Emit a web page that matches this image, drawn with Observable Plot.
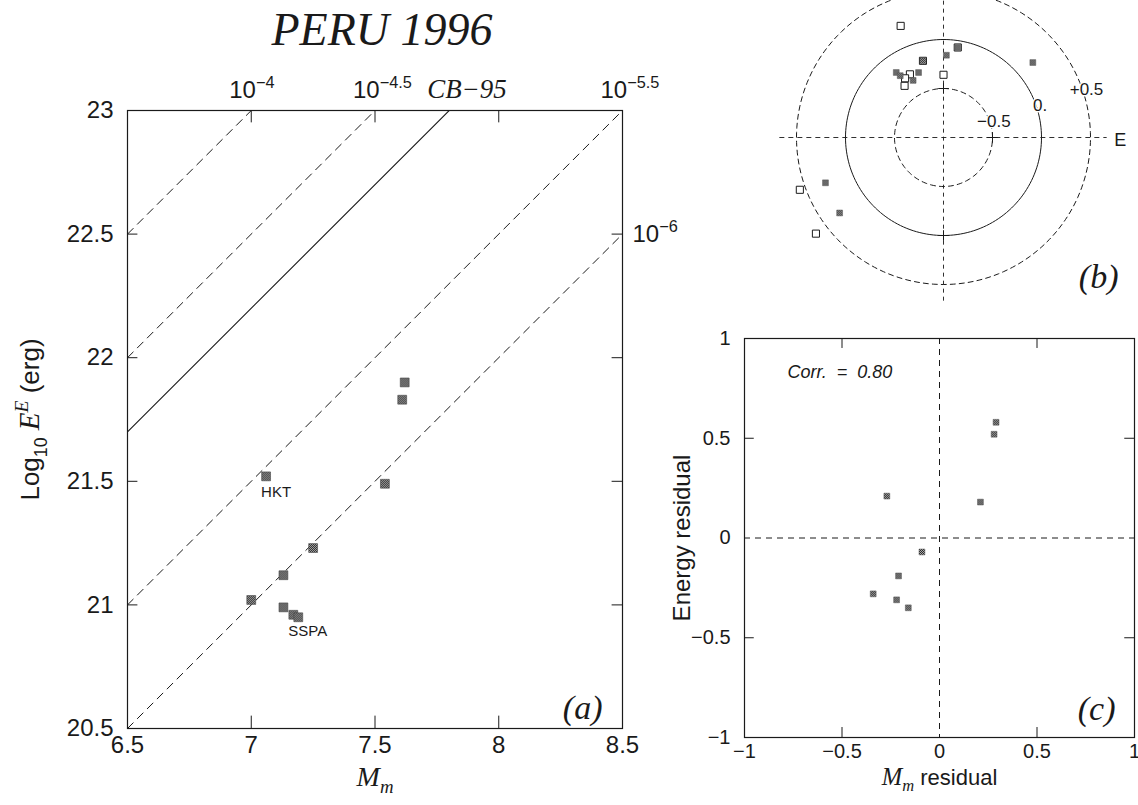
<!DOCTYPE html>
<html>
<head>
<meta charset="utf-8">
<script src="https://cdn.jsdelivr.net/npm/d3@7"></script>
<script src="https://cdn.jsdelivr.net/npm/@observablehq/plot@0.6"></script>
<style>
  html, body { margin: 0; padding: 0; background: #fff; }
  #fig { position: relative; width: 1138px; height: 805px; overflow: hidden; background: #fff; }
  #fig > svg { position: absolute; margin: 0; max-width: none; }
</style>
</head>
<body>
<svg width="0" height="0" style="position:absolute">
  <defs>
    <pattern id="hatch" patternUnits="userSpaceOnUse" width="2" height="2">
      <rect width="2" height="2" fill="#b4b4b4"></rect>
      <rect width="1" height="1" fill="#1e1e1e"></rect>
      <rect x="1" y="1" width="1" height="1" fill="#1e1e1e"></rect>
    </pattern>
  </defs>
</svg>
<div id="fig"></div>
<script>
// ---------------- DATA ----------------
// Panel (a): energy vs mantle magnitude
const magM = [7.62, 7.61, 7.06, 7.54, 7.25, 7.13, 7.00, 7.13, 7.17, 7.19];
const logE = [21.90, 21.83, 21.52, 21.49, 21.23, 21.12, 21.02, 20.99, 20.96, 20.95];
const stationNames = ["HKT", "SSPA"];
const stationIndex = [2, 8];
// reference lines of constant theta = E / M0  (log10 M0 = Mm + 20)
const ratioLog = [-4, -4.5, -4.8, -5.5, -6];
const ratioNames = ["10^{−4}", "10^{−4.5}", "*CB−95*", "10^{−5.5}", "10^{−6}"];
const ratioSolid = [false, false, true, false, false];
const MOMENT_OFFSET = 20;
const aXTicks = [6.5, 7, 7.5, 8, 8.5];
const aYTicks = [20.5, 21, 21.5, 22, 22.5, 23];

// Panel (b): azimuthal residuals (azimuth deg from N, residual)
const bOpenAz   = [339, 9, 345, 0, 332, 327, 323, 250, 233];
const bOpenRes  = [0.22, -0.07, -0.19, -0.36, -0.27, -0.28, -0.34, 0.56, 0.63];
const bHatchAz  = [9, 345, 2, 50, 324, 325, 339, 332, 249, 234];
const bHatchRes = [-0.07, -0.19, -0.16, 0.19, -0.18, -0.23, -0.29, -0.34, 0.29, 0.31];
const bRings = [-0.5, 0, 0.5];
const bRingLabels = ["−0.5", "0.", "+0.5"];

// Panel (c): residual correlation
const cMres = [0.29, 0.28, -0.27, 0.21, -0.09, -0.21, -0.34, -0.22, -0.16];
const cEres = [0.58, 0.52, 0.21, 0.18, -0.07, -0.19, -0.28, -0.31, -0.35];
const cTicks = [-1, -0.5, 0, 0.5, 1];
const cTickLabels = ["−1", "−0.5", "0", "0.5", "1"];
const corrText = "Corr.\u00a0\u00a0=\u00a0\u00a00.80";

// ---------------- HELPERS ----------------
const SANS = "'Liberation Sans', Arial, Helvetica, sans-serif";
const SERIF = "'Liberation Serif', 'Times New Roman', serif";
const fig = document.getElementById("fig");

function parseRich(s) {
  const out = []; let italic = false, shift = 0, buf = ""; const stack = [];
  const flush = () => { if (buf) { out.push({text: buf, italic, shift}); buf = ""; } };
  for (let i = 0; i < s.length; i++) {
    const c = s[i];
    if (c === "*") { flush(); italic = !italic; }
    else if ((c === "^" || c === "_") && s[i + 1] === "{") { flush(); stack.push(shift); shift = c === "^" ? 1 : -1; i++; }
    else if (c === "}" && stack.length) { flush(); shift = stack.pop(); }
    else buf += c;
  }
  flush();
  return out;
}
function richify(svg) {
  svg.querySelectorAll("text").forEach(el => {
    const s = el.textContent;
    if (!/[*]|\^\{|_\{/.test(s)) return;
    const fs = parseFloat(getComputedStyle(el).fontSize) || 16;
    const parts = parseRich(s);
    while (el.firstChild) el.removeChild(el.firstChild);
    let cur = 0;
    for (const p of parts) {
      const ts = document.createElementNS("http://www.w3.org/2000/svg", "tspan");
      ts.textContent = p.text;
      const target = p.shift > 0 ? -0.42 * fs : p.shift < 0 ? 0.3 * fs : 0;
      if (target !== cur) { ts.setAttribute("dy", (target - cur).toFixed(2)); cur = target; }
      if (p.shift) ts.setAttribute("font-size", (0.68 * fs).toFixed(1));
      if (p.italic) { ts.setAttribute("font-family", SERIF); ts.setAttribute("font-style", "italic"); ts.setAttribute("font-size", ((p.shift ? 0.75 : 1.12) * fs).toFixed(1)); }
      el.appendChild(ts);
    }
  });
}
function place(svg, left, top) {
  svg.style.left = left + "px";
  svg.style.top = top + "px";
  fig.appendChild(svg);
  richify(svg);
}
const baseStyle = {fontFamily: SANS, background: "transparent", overflow: "visible", color: "#111"};
const INK = "#1a1a1a";

// ---------------- PANEL (a) ----------------
{
  const A = {W: 700, H: 805, L: 127, R: 622, T: 110, B: 728};
  const xd = [aXTicks[0], aXTicks[aXTicks.length - 1]];
  const yd = [aYTicks[0], aYTicks[aYTicks.length - 1]];
  const innerX = aXTicks.slice(1, -1), innerY = aYTicks.slice(1, -1);
  const events = magM.map((m, i) => ({M: m, E: logE[i]}));
  const stations = stationNames.map((n, i) => ({name: n, ...events[stationIndex[i]]}));
  const ratios = ratioLog.map((lg, i) => ({lg, name: ratioNames[i], solid: ratioSolid[i],
    Mtop: yd[1] - MOMENT_OFFSET - lg, Eright: xd[1] + MOMENT_OFFSET + lg}));
  const linePts = ratios.flatMap(r => xd.map(m => ({M: m, E: m + MOMENT_OFFSET + r.lg, name: r.name, solid: r.solid})));
  const topLabels = ratios.filter(r => r.Mtop <= xd[1]);
  const rightLabels = ratios.filter(r => r.Mtop > xd[1]);
  const tvx = 0.05, tvy = 0.042;

  const svg = Plot.plot({
    width: A.W, height: A.H,
    marginLeft: A.L, marginRight: A.W - A.R, marginTop: A.T, marginBottom: A.H - A.B,
    x: {domain: xd, axis: null}, y: {domain: yd, axis: null},
    style: baseStyle,
    marks: [
      Plot.line(linePts.filter(d => !d.solid), {x: "M", y: "E", z: "name", stroke: INK, strokeWidth: 1, strokeDasharray: "8,6", clip: true}),
      Plot.line(linePts.filter(d => d.solid), {x: "M", y: "E", z: "name", stroke: INK, strokeWidth: 1.1, clip: true}),
      Plot.frame({stroke: INK, strokeWidth: 1.2}),
      Plot.ruleX(innerX, {x: d => d, y1: yd[0], y2: yd[0] + tvx, stroke: INK}),
      Plot.ruleX(innerX, {x: d => d, y1: yd[1] - tvx, y2: yd[1], stroke: INK}),
      Plot.ruleY(innerY, {y: d => d, x1: xd[0], x2: xd[0] + tvy, stroke: INK}),
      Plot.ruleY(innerY, {y: d => d, x1: xd[1] - tvy, x2: xd[1], stroke: INK}),
      Plot.dot(events, {x: "M", y: "E", symbol: "square", r: 5, fill: "url(#hatch)", stroke: "#444", strokeWidth: 0.6}),
      Plot.text(stations, {x: "M", y: "E", text: "name", textAnchor: "start", dx: -5, dy: 16, fontSize: 15, fill: INK}),
      // tick labels
      Plot.text(aXTicks, {x: d => d, text: d => String(d), frameAnchor: "bottom", lineAnchor: "top", dy: 7, fontSize: 24, fill: INK}),
      Plot.text(aYTicks, {y: d => d, text: d => String(d), frameAnchor: "left", textAnchor: "end", lineAnchor: "middle", dx: -14, fontSize: 24, fill: INK}),
      // ratio labels
      Plot.text(topLabels, {x: "Mtop", text: "name", frameAnchor: "top", textAnchor: "start", lineAnchor: "middle", dx: -22, dy: -20, fontSize: 24, fill: INK}),
      Plot.text(rightLabels, {y: "Eright", text: "name", frameAnchor: "right", textAnchor: "start", lineAnchor: "middle", dx: 10, fontSize: 24, fill: INK}),
      // axis labels & title
      Plot.text(["Log_{10} *E*^{*E*} (erg)"], {frameAnchor: "left", textAnchor: "middle", lineAnchor: "middle", rotate: -90, dx: -97, fontSize: 26, fill: INK}),
      Plot.text(["*M*_{*m*}"], {frameAnchor: "bottom", textAnchor: "middle", lineAnchor: "bottom", dy: 57, fontSize: 25, fill: INK}),
      Plot.text(["PERU 1996"], {frameAnchor: "top", textAnchor: "middle", lineAnchor: "middle", dx: 7, dy: -80, fontSize: 46, fontFamily: SERIF, fontStyle: "italic", fill: INK}),
      Plot.text(["(a)"], {frameAnchor: "bottom-right", textAnchor: "end", lineAnchor: "bottom", dx: -20, dy: -10, fontSize: 34, fontFamily: SERIF, fontStyle: "italic", fill: INK})
    ]
  });
  place(svg, 0, 0);
}

// ---------------- PANEL (b) ----------------
{
  const B = {left: 748, top: 0, W: 390, H: 310, cx: 943, cy: 137, unit: 98};
  const toXY = (az, res) => { const rho = res + 1, t = az * Math.PI / 180; return {x: rho * Math.sin(t), y: rho * Math.cos(t)}; };
  const open = bOpenAz.map((a, i) => toXY(a, bOpenRes[i]));
  const hatch = bHatchAz.map((a, i) => toXY(a, bHatchRes[i]));
  const ringPts = bRings.flatMap(v => d3.range(0, 361, 2).map(a => ({...toXY(a, v), ring: v})));
  const ringLab = bRings.map((v, i) => ({...toXY(71, v), text: bRingLabels[i]}));
  const cross = 1.67;
  const axTicks = [toXY(0, -0.5), toXY(90, -0.5), toXY(180, 0)];

  const svg = Plot.plot({
    width: B.W, height: B.H, margin: 0,
    x: {domain: [(B.left - B.cx) / B.unit, (B.left + B.W - B.cx) / B.unit], axis: null},
    y: {domain: [(B.cy - B.top - B.H) / B.unit, (B.cy - B.top) / B.unit], axis: null},
    style: baseStyle,
    marks: [
      Plot.ruleY([0], {x1: -cross, x2: cross, stroke: INK, strokeWidth: 0.9, strokeDasharray: "5,4"}),
      Plot.ruleX([0], {y1: -cross, y2: cross, stroke: INK, strokeWidth: 0.9, strokeDasharray: "4,4"}),
      Plot.line(ringPts.filter(d => d.ring !== 0), {x: "x", y: "y", z: "ring", stroke: INK, strokeWidth: 1, strokeDasharray: "5,4"}),
      Plot.line(ringPts.filter(d => d.ring === 0), {x: "x", y: "y", stroke: INK, strokeWidth: 1}),
      Plot.dot(axTicks, {x: "x", y: "y", symbol: "plus", r: 3.5, stroke: INK, strokeWidth: 1}),
      Plot.dot(open, {x: "x", y: "y", symbol: "square", r: 4, fill: "white", stroke: INK, strokeWidth: 1}),
      Plot.dot(hatch, {x: "x", y: "y", symbol: "square", r: 3.3, fill: "url(#hatch)", stroke: "#555", strokeWidth: 0.5}),
      Plot.text(ringLab, {x: "x", y: "y", text: "text", dx: 4, fontSize: 17, fill: INK, stroke: "white", strokeWidth: 3}),
      Plot.text(["E"], {x: cross, y: 0, dx: 7, dy: 3, textAnchor: "start", fontSize: 18, fill: INK}),
      Plot.text(["(b)"], {frameAnchor: "bottom-right", textAnchor: "end", lineAnchor: "bottom", dx: -20, dy: -23, fontSize: 34, fontFamily: SERIF, fontStyle: "italic", fill: INK})
    ]
  });
  place(svg, B.left, B.top);
}

// ---------------- PANEL (c) ----------------
{
  const C = {left: 640, top: 310, W: 498, H: 495, L: 744, R: 1134, T: 338, B: 737};
  const d = [cTicks[0], cTicks[cTicks.length - 1]];
  const inner = cTicks.filter(t => t !== 0 && t !== d[0] && t !== d[1]);
  const pts = cMres.map((m, i) => ({m, e: cEres[i]}));
  const labs = cTicks.map((t, i) => ({t, s: cTickLabels[i]}));
  const tl = 0.05;
  const svg = Plot.plot({
    width: C.W, height: C.H,
    marginLeft: C.L - C.left, marginRight: C.left + C.W - C.R, marginTop: C.T - C.top, marginBottom: C.top + C.H - C.B,
    x: {domain: d, axis: null}, y: {domain: d, axis: null},
    style: baseStyle,
    marks: [
      Plot.ruleX([0], {stroke: INK, strokeWidth: 1, strokeDasharray: "6,5"}),
      Plot.ruleY([0], {stroke: INK, strokeWidth: 1, strokeDasharray: "6,5"}),
      Plot.frame({stroke: INK, strokeWidth: 1.2}),
      Plot.ruleX(inner, {x: v => v, y1: d[0], y2: d[0] + tl, stroke: INK}),
      Plot.ruleX(inner, {x: v => v, y1: d[1] - tl, y2: d[1], stroke: INK}),
      Plot.ruleY(inner, {y: v => v, x1: d[0], x2: d[0] + tl, stroke: INK}),
      Plot.ruleY(inner, {y: v => v, x1: d[1] - tl, x2: d[1], stroke: INK}),
      Plot.dot(pts, {x: "m", y: "e", symbol: "square", r: 3.3, fill: "url(#hatch)", stroke: "#555", strokeWidth: 0.5}),
      Plot.text(labs, {x: "t", text: "s", frameAnchor: "bottom", lineAnchor: "top", dy: 6, fontSize: 20, fill: INK}),
      Plot.text(labs, {y: "t", text: "s", frameAnchor: "left", textAnchor: "end", lineAnchor: "middle", dx: -14, fontSize: 20, fill: INK}),
      Plot.text(["Energy residual"], {frameAnchor: "left", textAnchor: "middle", lineAnchor: "middle", rotate: -90, dx: -62, fontSize: 24, fill: INK}),
      Plot.text(["*M*_{*m*} residual"], {frameAnchor: "bottom", textAnchor: "middle", lineAnchor: "bottom", dy: 47, fontSize: 22, fill: INK}),
      Plot.text([corrText], {frameAnchor: "top-left", textAnchor: "start", lineAnchor: "middle", dx: 43, dy: 34, fontSize: 18, fontStyle: "italic", fill: INK}),
      Plot.text(["(c)"], {frameAnchor: "bottom-right", textAnchor: "end", lineAnchor: "bottom", dx: -19, dy: -18, fontSize: 34, fontFamily: SERIF, fontStyle: "italic", fill: INK})
    ]
  });
  place(svg, C.left, C.top);
}
</script>
</body>
</html>
